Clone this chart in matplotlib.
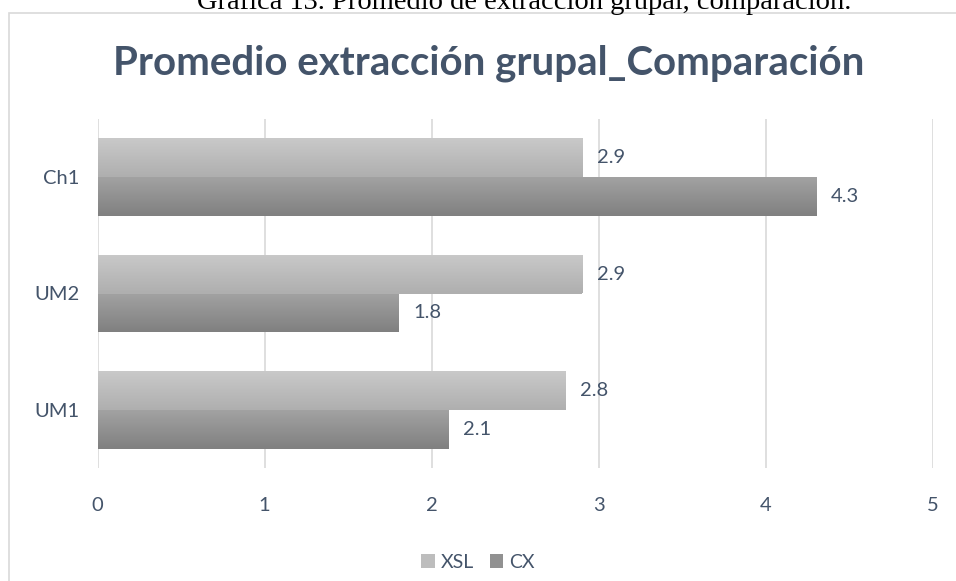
import matplotlib
matplotlib.use("Agg")
import matplotlib.pyplot as plt
from matplotlib.patches import Rectangle, Patch
import numpy as np

categories = ["UM1", "UM2", "Ch1"]
xsl = [2.8, 2.9, 2.9]
cx = [2.1, 1.8, 4.3]
series_names = ["XSL", "CX"]
xticks = [0, 1, 2, 3, 4, 5]

text_col = "#44546A"
grid_col = "#D9D9D9"
plt.rcParams["font.family"] = ["Lato", "DejaVu Sans"]

fig = plt.figure(figsize=(9.56, 5.81), dpi=100)
W, H = 956, 581
ax = fig.add_axes([97.5 / W, 1 - 468 / H, (933 - 97.5) / W, (468 - 119) / H])

# outer chart frame
fig.patches.append(Rectangle((9 / W, -0.05), 1.1, 1 - 13 / H + 0.05,
                             transform=fig.transFigure, fill=False,
                             edgecolor=grid_col, linewidth=1.2))

# caption cut off at the top, as in the source
fig.text(524 / W, 1 - 9 / H, "Gráfica 13. Promedio de extracción grupal, comparación.",
         family="Liberation Serif", fontsize=20.5, ha="center", va="baseline", color="black")

h = 0.335
y = np.arange(len(categories))
grads = {"XSL": ("#C9C9C9", "#AFAFAF"), "CX": ("#A2A2A2", "#808080")}


def hex2rgb(c):
    return np.array([int(c[i:i + 2], 16) / 255 for i in (1, 3, 5)])


for name, vals, off in [("XSL", xsl, h / 2), ("CX", cx, -h / 2)]:
    bars = ax.barh(y + off, vals, height=h, color=grads[name][1], linewidth=0, zorder=2)
    top, bot = hex2rgb(grads[name][0]), hex2rgb(grads[name][1])
    t = np.linspace(0, 1, 64)[:, None]
    img = (top * (1 - t) + bot * t)[:, None, :]
    for b, v in zip(bars, vals):
        x0, y0 = b.get_x(), b.get_y()
        im = ax.imshow(img, extent=[x0, x0 + b.get_width(), y0, y0 + b.get_height()],
                       aspect="auto", origin="upper", zorder=3, interpolation="bilinear")
        im.set_clip_path(b)
        ax.text(v + 0.09, y0 + b.get_height() / 2, f"{v:.1f}", va="center", ha="left",
                fontsize=14.5, color=text_col, zorder=4)

ax.set_xlim(0, 5)
ax.set_ylim(-0.5, 2.5)
ax.set_xticks(xticks)
ax.set_yticks(y)
ax.set_yticklabels(categories)
ax.tick_params(length=0, labelsize=14.5, labelcolor=text_col)
ax.tick_params(axis="x", pad=21)
ax.tick_params(axis="y", pad=13)
ax.grid(axis="x", color=grid_col, linewidth=1.2, zorder=0)
ax.set_axisbelow(True)
for s in ax.spines.values():
    s.set_visible(False)

fig.text(489 / W, 1 - 63 / H, "Promedio extracción grupal_Comparación", ha="center", va="center",
         fontsize=29, fontweight="bold", color=text_col)

handles = [Patch(facecolor="#BDBDBD", edgecolor="none"), Patch(facecolor="#919191", edgecolor="none")]
fig.legend(handles, series_names, loc="center", bbox_to_anchor=(0.5, 1 - 562 / H), ncol=2,
           frameon=False, fontsize=14, labelcolor=text_col, handlelength=0.7, handleheight=0.7,
           handletextpad=0.3, columnspacing=0.8)

fig.savefig("out.png", dpi=100)
